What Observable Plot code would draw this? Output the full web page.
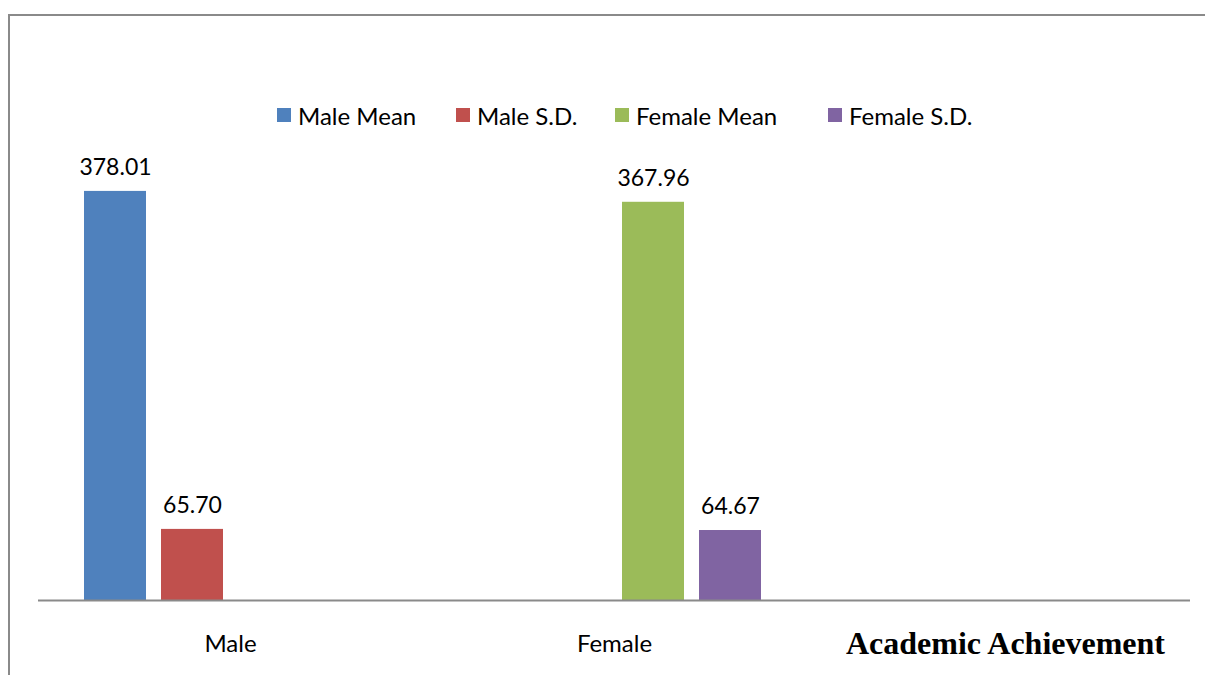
<!DOCTYPE html>
<html>
<head>
<meta charset="utf-8">
<script src="https://cdn.jsdelivr.net/npm/d3@7"></script>
<script src="https://cdn.jsdelivr.net/npm/@observablehq/plot@0.6"></script>
<style>
  html, body { margin: 0; padding: 0; background: #fff; }
  #wrap { position: relative; width: 1205px; height: 675px; overflow: hidden; background: #fff; }
  #frame { position: absolute; left: 8px; top: 14px; width: 1400px; height: 900px; border: 2.5px solid #8a8a8a; box-sizing: border-box; }
  #chart { position: absolute; left: 0; top: 0; }
  #legend { position: absolute; left: 277px; top: 102px; height: 26px; display: flex; align-items: center; font-family: Lato, sans-serif; font-size: 24px; color: #000; }
  .item { display: flex; align-items: center; white-space: nowrap; }
  .item:nth-child(1) { width: 179px; }
  .item:nth-child(2) { width: 159px; }
  .item:nth-child(3) { width: 213px; }
  .sw { width: 14px; height: 14px; margin-right: 7px; flex: none; }
</style>
</head>
<body>
<div id="wrap">
  <div id="frame"></div>
  <div id="chart"></div>
  <div id="legend"></div>
</div>
<script>
const categories = ["Male", "Female"];
const axisTitle = "Academic Achievement";
const series = ["Male Mean", "Male S.D.", "Female Mean", "Female S.D."];
const colors = ["#4F81BD", "#C0504D", "#9BBB59", "#8064A2"];
const maleValues = [378.01, 65.70];     // Male Mean, Male S.D.
const femaleValues = [367.96, 64.67];   // Female Mean, Female S.D.

const rows = [
  {category: "Male", series: "Male Mean", value: maleValues[0]},
  {category: "Male", series: "Male S.D.", value: maleValues[1]},
  {category: "Female", series: "Female Mean", value: femaleValues[0]},
  {category: "Female", series: "Female S.D.", value: femaleValues[1]}
];
const fmt = d3.format(".2f");

const chart = Plot.plot({
  width: 1205,
  height: 675,
  marginLeft: 38,
  marginRight: 15,
  marginTop: 113,
  marginBottom: 75,
  fx: {domain: [...categories, axisTitle], padding: 0, axis: null},
  x: {domain: series, paddingInner: 0.195, paddingOuter: 0.591, axis: null},
  y: {domain: [0, 450], axis: null},
  color: {domain: series, range: colors},
  style: {fontFamily: "Lato, sans-serif", fontSize: "23px", background: "transparent", overflow: "visible"},
  marks: [
    Plot.barY(rows, {fx: "category", x: "series", y: "value", fill: "series"}),
    Plot.text(rows, {fx: "category", x: "series", y: "value", text: d => fmt(d.value), dy: -24, fontSize: 23, fill: "#000"}),
    Plot.ruleY([0], {stroke: "#8a8a8a", strokeWidth: 2}),
    Plot.text(categories, {fx: d => d, text: d => d, frameAnchor: "bottom", dy: 51, fontSize: 24, fill: "#000"}),
    Plot.text([axisTitle], {fx: d => d, text: d => d, frameAnchor: "bottom", dy: 53, dx: 7, fontFamily: "Liberation Serif, Times New Roman, serif", fontWeight: "bold", fontSize: 32, fill: "#000"})
  ]
});
document.getElementById("chart").appendChild(chart);

const legend = d3.select("#legend");
series.forEach((s, i) => {
  const it = legend.append("div").attr("class", "item");
  it.append("div").attr("class", "sw").style("background", colors[i]);
  it.append("span").text(s);
});
</script>
</body>
</html>
